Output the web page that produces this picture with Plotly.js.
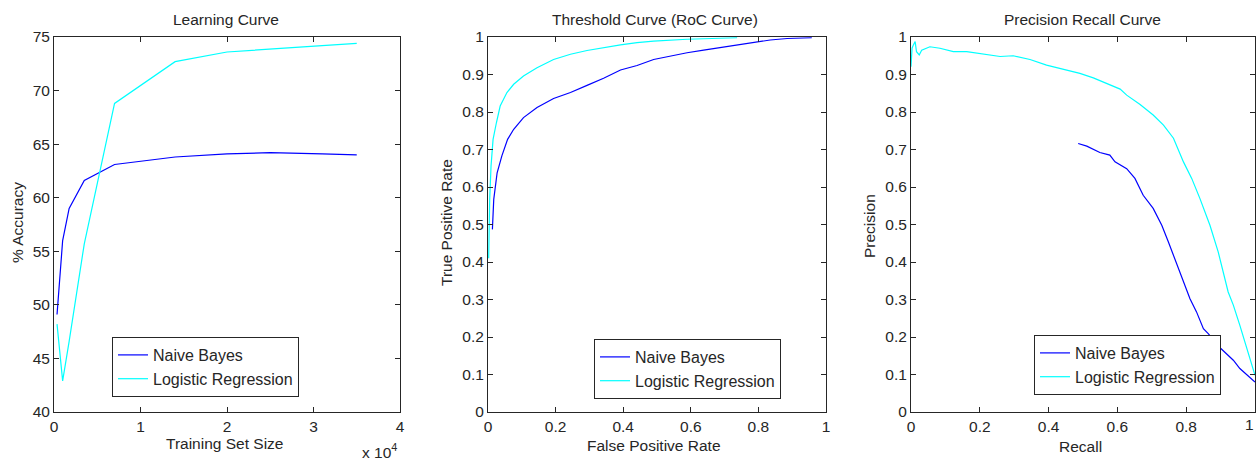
<!DOCTYPE html>
<html><head><meta charset="utf-8">
<script src="https://cdn.plot.ly/plotly-3.0.1.min.js"></script>
<style>html,body{margin:0;padding:0;background:#fff}#chart{width:1257px;height:460px}</style>
</head><body><div id="chart"></div>
<script>
// ---- Learning curve (training set size in units of 10^4) ----
const lcSize = [0.035, 0.1, 0.175, 0.35, 0.7, 1.4, 2.0, 2.5, 3.1, 3.5];
const lcNB   = [49.1, 56.0, 59.0, 61.6, 63.1, 63.8, 64.1, 64.2, 64.1, 64.0];
const lcLR   = [48.2, 42.9, 46.6, 55.7, 68.8, 72.7, 73.6, 73.9, 74.2, 74.4];

// ---- ROC ----
const rocNB_fpr = [0.013,0.017,0.027,0.041,0.058,0.076,0.105,0.145,0.194,0.244,0.293,0.342,0.392,0.441,0.49,0.539,0.589,0.638,0.687,0.737,0.786,0.835,0.885,0.958];
const rocNB_tpr = [0.487,0.567,0.638,0.683,0.727,0.754,0.785,0.812,0.836,0.852,0.871,0.890,0.912,0.924,0.940,0.949,0.958,0.965,0.972,0.980,0.987,0.992,0.996,0.998];
const rocLR_fpr = [0.002,0.005,0.009,0.015,0.025,0.036,0.056,0.076,0.105,0.145,0.194,0.244,0.293,0.342,0.392,0.441,0.49,0.589,0.687,0.737];
const rocLR_tpr = [0.41,0.567,0.656,0.727,0.772,0.816,0.852,0.874,0.896,0.918,0.940,0.954,0.964,0.972,0.979,0.985,0.989,0.994,0.997,0.998];

// ---- Precision / Recall ----
const prLR_rec  = [0.0,0.003,0.007,0.012,0.016,0.024,0.031,0.055,0.084,0.123,0.162,0.21,0.259,0.297,0.346,0.394,0.443,0.491,0.53,0.569,0.608,0.627,0.666,0.704,0.734,0.763,0.792,0.816,0.84,0.869,0.893,0.922,0.937,0.956,0.976,1.0];
const prLR_prec = [0.921,0.97,0.979,0.988,0.961,0.952,0.965,0.974,0.970,0.961,0.961,0.954,0.948,0.950,0.940,0.925,0.914,0.903,0.891,0.875,0.861,0.845,0.820,0.792,0.765,0.730,0.667,0.623,0.569,0.498,0.427,0.320,0.285,0.231,0.169,0.098];
const prNB_rec  = [0.486,0.511,0.549,0.578,0.593,0.627,0.651,0.675,0.704,0.729,0.748,0.763,0.777,0.797,0.811,0.83,0.85,0.864,0.90,0.937,0.956,1.0];
const prNB_prec = [0.716,0.709,0.692,0.685,0.667,0.649,0.623,0.578,0.543,0.498,0.454,0.418,0.383,0.338,0.302,0.267,0.222,0.209,0.17,0.138,0.116,0.08];

const names = ['Naive Bayes', 'Logistic Regression'];
const BLUE = '#0000ff', CYAN = '#00ffff';
const W = 1257, H = 460;
const px = x => x / W, py = y => 1 - y / H;
const FONT = 'Liberation Sans, Arial, sans-serif';
const TXT = '#262626';
const FS = 15.5;

function tr(x, y, i, ax, leg) {
  return {x, y, type: 'scatter', mode: 'lines', name: names[i],
    line: {color: i === 0 ? BLUE : CYAN, width: 1.2},
    xaxis: 'x' + ax, yaxis: 'y' + ax, legend: leg, hoverinfo: 'skip'};
}
const data = [
  tr(lcSize, lcNB, 0, '', 'legend'), tr(lcSize, lcLR, 1, '', 'legend'),
  tr(rocNB_fpr, rocNB_tpr, 0, '2', 'legend2'), tr(rocLR_fpr, rocLR_tpr, 1, '2', 'legend2'),
  tr(prNB_rec, prNB_prec, 0, '3', 'legend3'), tr(prLR_rec, prLR_prec, 1, '3', 'legend3')
];

function axis(dom, range, dtick, anchor) {
  return {domain: dom, range, dtick, tick0: 0, anchor, showline: true, mirror: 'ticks',
    linecolor: '#262626', linewidth: 1, ticks: 'inside', ticklen: 5, tickcolor: '#262626',
    showgrid: false, zeroline: false, automargin: false,
    tickfont: {family: FONT, size: FS, color: TXT}};
}
const yd = [py(412), py(37)];
function legend(x, y) {
  return {x: px(x), y: py(y), xanchor: 'left', yanchor: 'top', bgcolor: '#fff',
    bordercolor: '#262626', borderwidth: 1, font: {family: FONT, size: 16, color: TXT},
    tracegroupgap: 0};
}
function ann(text, x, y, size, rot, xa) {
  return {text, x: px(x), y: py(y), xref: 'paper', yref: 'paper', showarrow: false,
    xanchor: xa || 'center', yanchor: 'middle', textangle: rot || 0,
    font: {family: FONT, size, color: TXT}};
}
const layout = {
  width: W, height: H, margin: {l: 0, r: 0, t: 0, b: 0},
  paper_bgcolor: '#fff', plot_bgcolor: '#fff', showlegend: true,
  xaxis: axis([px(54), px(400)], [0, 4], 1, 'y'),
  yaxis: axis(yd, [40, 75], 5, 'x'),
  xaxis2: axis([px(488), px(826)], [0, 1], 0.2, 'y2'),
  yaxis2: axis(yd, [0, 1], 0.1, 'x2'),
  xaxis3: axis([px(911), px(1255)], [0, 1], 0.2, 'y3'),
  yaxis3: axis(yd, [0, 1], 0.1, 'x3'),
  legend: legend(112, 337), legend2: legend(594, 339), legend3: legend(1034, 335),
  annotations: [
    ann('Learning Curve', 226, 20, FS),
    ann('Threshold Curve (RoC Curve)', 655, 20, FS),
    ann('Precision Recall Curve', 1082, 20, FS),
    ann('Training Set Size', 224, 443, FS),
    ann('False Positive Rate', 654, 445, FS),
    ann('Recall', 1080, 446, FS),
    ann('% Accuracy', 17, 223, FS, -90),
    ann('True Positive Rate', 446, 223, FS, -90),
    ann('Precision', 869, 226, FS, -90),
    ann('x 10<sup>4</sup>', 379, 451, FS),
    ann('1', 1256, 424, FS, 0, 'right')
  ]
};
Plotly.newPlot('chart', data, layout, {staticPlot: true});
</script></body></html>
